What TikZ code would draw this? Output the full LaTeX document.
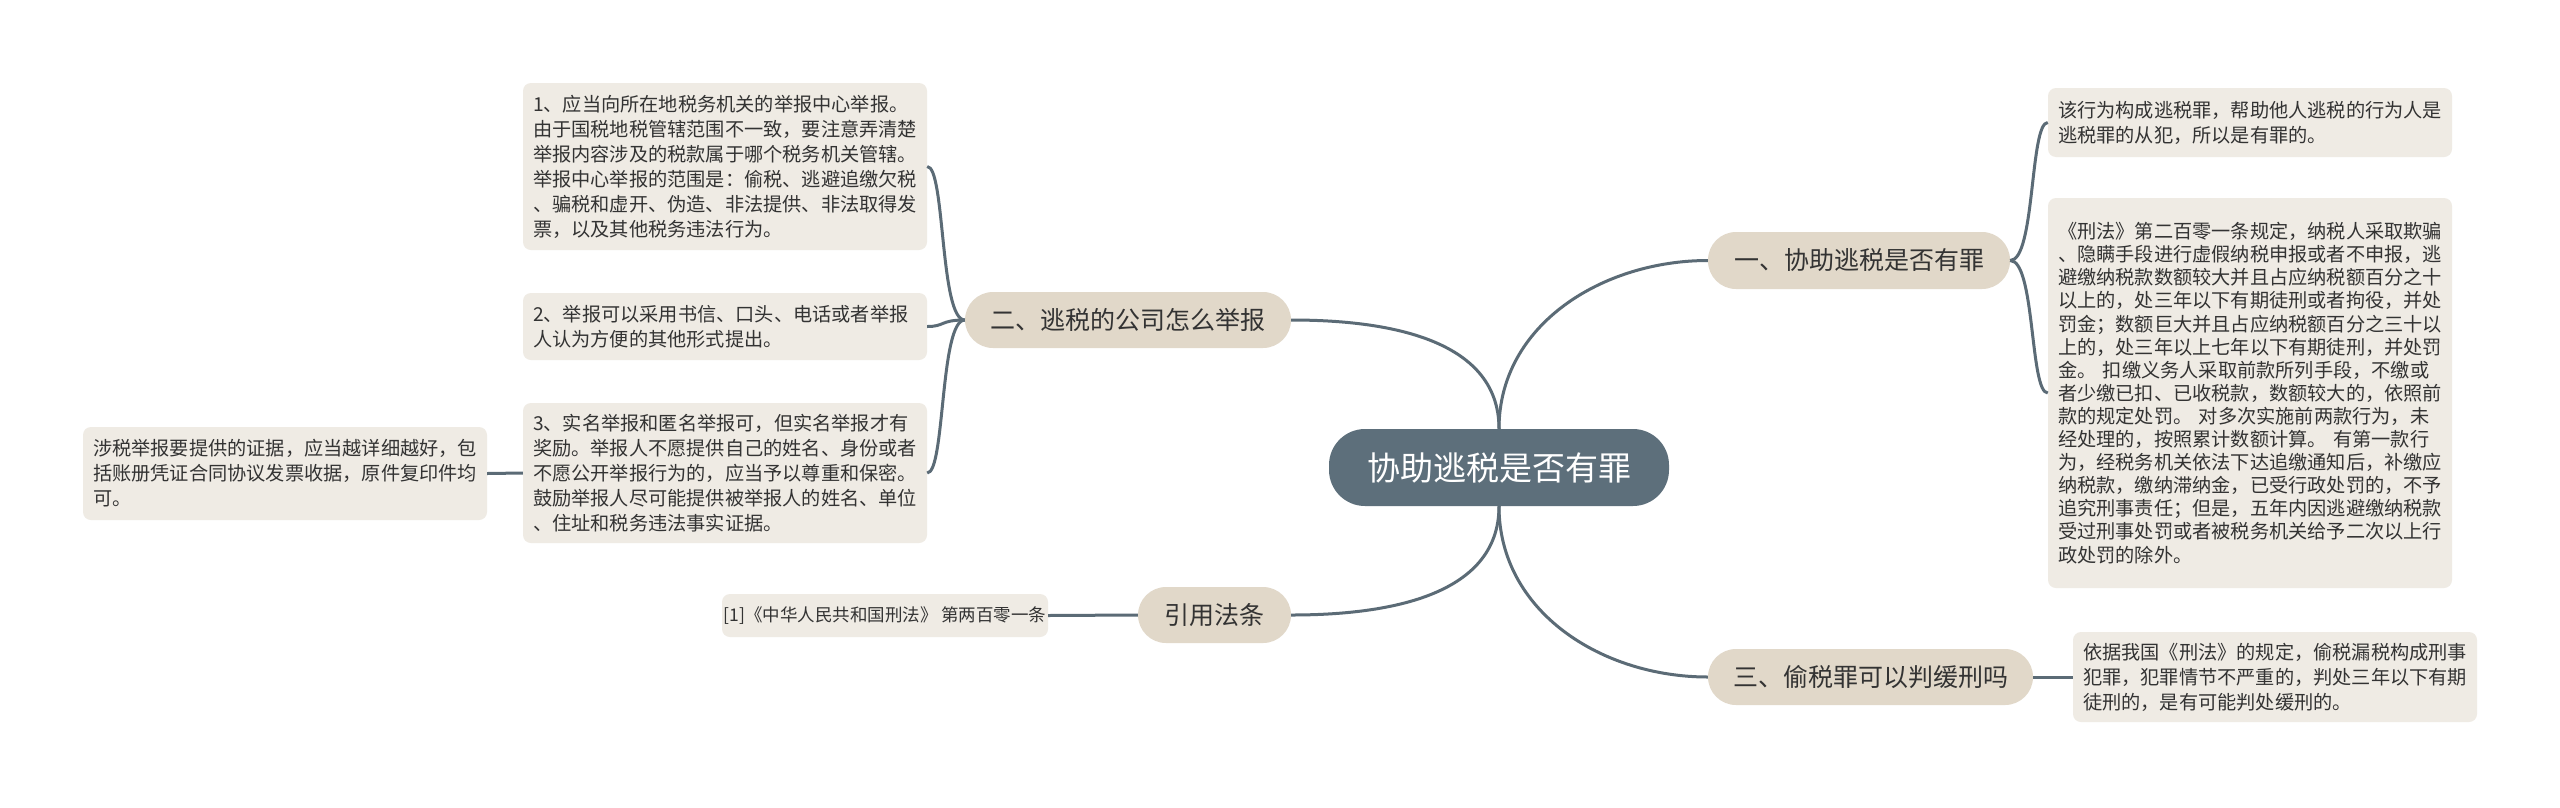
\documentclass[tikz,border=0pt]{standalone}
\usepackage{fontspec}
\setmainfont{Noto Sans CJK SC}
\definecolor{rootc}{HTML}{5D6F7B}
\definecolor{branchc}{HTML}{E1D8C9}
\definecolor{leafc}{HTML}{EFEBE4}
\definecolor{linec}{HTML}{5B6B76}
\definecolor{textc}{HTML}{333333}
\begin{document}
\begin{tikzpicture}[x=1pt,y=-1pt,
  conn/.style={draw=linec, line width=3pt},
  leaf/.style={fill=leafc, rounded corners=8pt, inner xsep=10pt, inner ysep=0pt, text width=384pt, align=left, text=textc, font=\fontsize{19.2}{25}\selectfont},
  reflf/.style={fill=leafc, rounded corners=8pt, inner sep=0pt, text=textc, font=\fontsize{17.5}{21}\selectfont},
  branch/.style={fill=branchc, rounded corners=28pt, inner sep=0pt, text=textc, font=\fontsize{25}{30}\selectfont},
  root/.style={fill=rootc, rounded corners=36pt, inner sep=0pt, text=white, font=\fontsize{33}{40}\selectfont}]
\useasboundingbox (0,0) rectangle (2560,807);
\fill[white] (0,0) rectangle (2560,807);

\node[root, minimum width=340pt, minimum height=77pt] (c) at (1499,467.5) {协助逃税是否有罪};
\node[branch, minimum width=302pt, minimum height=57pt] (b1) at (1859,260.5) {一、协助逃税是否有罪};
\node[branch, minimum width=326pt, minimum height=56pt] (b2) at (1128,320) {二、逃税的公司怎么举报};
\node[branch, minimum width=153pt, minimum height=56pt] (b4) at (1214.5,615) {引用法条};
\node[branch, minimum width=325pt, minimum height=56pt] (b3) at (1870.5,677) {三、偷税罪可以判缓刑吗};

\node[leaf, minimum height=167pt] (l1) at (725,166.5) {1、应当向所在地税务机关的举报中心举报。\\由于国税地税管辖范围不一致，要注意弄清楚\\举报内容涉及的税款属于哪个税务机关管辖。\\举报中心举报的范围是：偷税、逃避追缴欠税\\、骗税和虚开、伪造、非法提供、非法取得发\\票，以及其他税务违法行为。};
\node[leaf, minimum height=67pt] (l2) at (725,326.5) {2、举报可以采用书信、口头、电话或者举报\\人认为方便的其他形式提出。};
\node[leaf, minimum height=140pt] (l3) at (725,473) {3、实名举报和匿名举报可，但实名举报才有\\奖励。举报人不愿提供自己的姓名、身份或者\\不愿公开举报行为的，应当予以尊重和保密。\\鼓励举报人尽可能提供被举报人的姓名、单位\\、住址和税务违法事实证据。};
\node[leaf, minimum height=93pt] (fl) at (285,473.5) {涉税举报要提供的证据，应当越详细越好，包\\括账册凭证合同协议发票收据，原件复印件均\\可。};
\node[reflf, minimum width=326pt, minimum height=43pt] (rf) at (885,615.5) {[1]《中华人民共和国刑法》 第两百零一条};

\node[leaf, minimum height=69pt] (r1) at (2250,122.5) {该行为构成逃税罪，帮助他人逃税的行为人是\\逃税罪的从犯，所以是有罪的。};
\node[leaf, minimum height=390pt, font=\fontsize{19.2}{23.1}\selectfont] (r2) at (2250,393) {《刑法》第二百零一条规定，纳税人采取欺骗\\、隐瞒手段进行虚假纳税申报或者不申报，逃\\避缴纳税款数额较大并且占应纳税额百分之十\\以上的，处三年以下有期徒刑或者拘役，并处\\罚金；数额巨大并且占应纳税额百分之三十以\\上的，处三年以上七年以下有期徒刑，并处罚\\金。 扣缴义务人采取前款所列手段，不缴或\\者少缴已扣、已收税款，数额较大的，依照前\\款的规定处罚。 对多次实施前两款行为，未\\经处理的，按照累计数额计算。 有第一款行\\为，经税务机关依法下达追缴通知后，补缴应\\纳税款，缴纳滞纳金，已受行政处罚的，不予\\追究刑事责任；但是，五年内因逃避缴纳税款\\受过刑事处罚或者被税务机关给予二次以上行\\政处罚的除外。};
\node[leaf, minimum height=90pt] (r3) at (2275,677) {依据我国《刑法》的规定，偷税漏税构成刑事\\犯罪，犯罪情节不严重的，判处三年以下有期\\徒刑的，是有可能判处缓刑的。};

\draw[conn] (c.north) to[out=90,in=180] (b1.west);
\draw[conn] (c.north) to[out=90,in=0] (b2.east);
\draw[conn] (c.south) to[out=-90,in=0] (b4.east);
\draw[conn] (c.south) to[out=-90,in=180] (b3.west);

\draw[conn] (b2.west) .. controls +(-25,0) and +(18,0) .. (l1.east);
\draw[conn] (b2.west) .. controls +(-25,0) and +(18,0) .. (l2.east);
\draw[conn] (b2.west) .. controls +(-25,0) and +(18,0) .. (l3.east);
\draw[conn] (l3.west) -- (fl.east);
\draw[conn] (b4.west) -- (rf.east);

\draw[conn] (b1.east) .. controls +(25,0) and +(-18,0) .. (r1.west);
\draw[conn] (b1.east) .. controls +(25,0) and +(-18,0) .. (r2.west);
\draw[conn] (b3.east) -- (r3.west);
\end{tikzpicture}
\end{document}
